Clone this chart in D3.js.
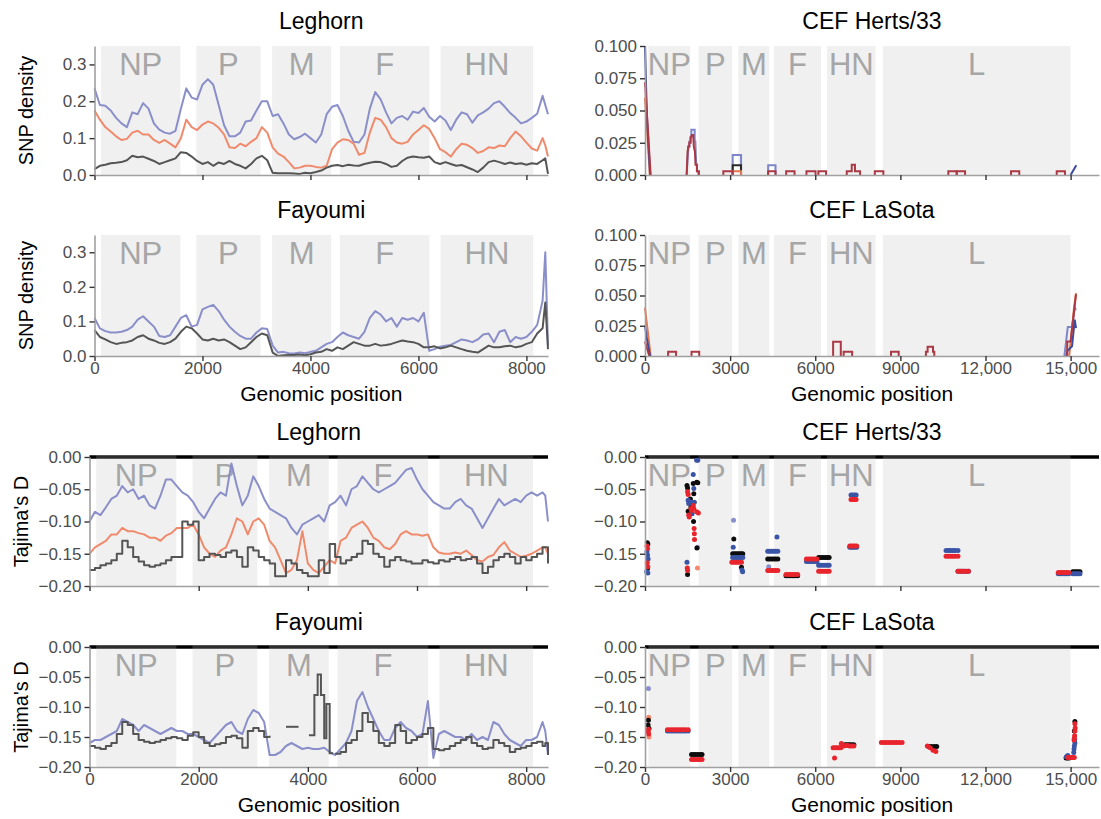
<!DOCTYPE html>
<html>
<head>
<meta charset="utf-8">
<script src="https://cdn.jsdelivr.net/npm/d3@7"></script>
<style>
  body { margin: 0; background: #fff; }
  svg { display: block; }
</style>
</head>
<body>
<svg id="chart" width="1101" height="819"></svg>
<script>
// ---------- gene annotation (NDV coding regions) ----------
const GENE_NAMES = ["NP", "P", "M", "F", "HN", "L"];
const GENE_START = [122, 1887, 3290, 4544, 6412, 8381];
const GENE_END   = [1591, 3074, 4384, 6205, 8127, 14995];

// ---------- tick values / labels ----------
const X_TICKS_LEFT = [0, 2000, 4000, 6000, 8000];
const X_LABELS_LEFT = ["0", "2000", "4000", "6000", "8000"];
const X_TICKS_RIGHT = [0, 3000, 6000, 9000, 12000, 15000];
const X_LABELS_RIGHT = ["0", "3000", "6000", "9000", "12,000", "15,000"];
const Y_TICKS_SNP_LEFT = [0, 0.1, 0.2, 0.3];
const Y_LABELS_SNP_LEFT = ["0.0", "0.1", "0.2", "0.3"];
const Y_TICKS_SNP_RIGHT = [0, 0.025, 0.05, 0.075, 0.1];
const Y_LABELS_SNP_RIGHT = ["0.000", "0.025", "0.050", "0.075", "0.100"];
const Y_TICKS_TAJ = [0, -0.05, -0.1, -0.15, -0.2];
const Y_LABELS_TAJ = ["0.00", "\u22120.05", "\u22120.10", "\u22120.15", "\u22120.20"];

// ---------- sliding-window positions for the chicken-line panels ----------
const POS_L = [0,100,200,300,400,500,600,700,800,900,1000,1100,1200,1300,1400,1500,1600,1700,1800,1900,
  2000,2100,2200,2300,2400,2500,2600,2700,2800,2900,3000,3100,3200,3300,3400,3500,3600,3700,3800,3900,
  4000,4100,4200,4300,4400,4500,4600,4700,4800,4900,5000,5100,5200,5300,5400,5500,5600,5700,5800,5900,
  6000,6100,6200,6300,6400,6500,6600,6700,6800,6900,7000,7100,7200,7300,7400,7500,7600,7700,7800,7900,
  8000,8100,8200,8300,8350,8400];

// Leghorn SNP density
const legSnpBlue = [0.235,0.19,0.188,0.175,0.155,0.14,0.13,0.17,0.165,0.195,
  0.18,0.14,0.123,0.115,0.112,0.12,0.18,0.235,0.21,0.205,
  0.245,0.26,0.245,0.19,0.135,0.105,0.105,0.115,0.145,0.148,
  0.175,0.2,0.2,0.16,0.165,0.14,0.11,0.097,0.103,0.112,
  0.1,0.088,0.11,0.165,0.185,0.19,0.16,0.12,0.09,0.088,
  0.11,0.18,0.225,0.205,0.17,0.14,0.155,0.16,0.15,0.172,
  0.168,0.182,0.158,0.145,0.16,0.148,0.122,0.15,0.17,0.165,
  0.142,0.162,0.17,0.18,0.195,0.2,0.185,0.168,0.155,0.14,
  0.145,0.155,0.166,0.215,0.19,0.165];
const legSnpSalmon = [0.175,0.15,0.13,0.118,0.105,0.095,0.098,0.115,0.12,0.11,
  0.11,0.095,0.087,0.095,0.085,0.075,0.1,0.15,0.13,0.122,
  0.137,0.145,0.14,0.128,0.11,0.075,0.073,0.085,0.078,0.09,
  0.1,0.13,0.115,0.075,0.058,0.05,0.035,0.018,0.02,0.025,
  0.025,0.022,0.02,0.025,0.07,0.088,0.097,0.095,0.085,0.055,
  0.06,0.115,0.155,0.15,0.13,0.1,0.088,0.085,0.09,0.11,
  0.122,0.135,0.125,0.1,0.07,0.062,0.05,0.07,0.085,0.082,
  0.073,0.06,0.065,0.075,0.073,0.08,0.078,0.1,0.118,0.105,
  0.088,0.072,0.066,0.1,0.08,0.05];
const legSnpGray = [0.016,0.025,0.028,0.032,0.033,0.035,0.04,0.052,0.048,0.05,
  0.044,0.038,0.03,0.035,0.04,0.045,0.062,0.06,0.05,0.038,
  0.03,0.035,0.025,0.034,0.03,0.038,0.03,0.025,0.018,0.03,
  0.045,0.052,0.04,0.006,0.005,0.005,0.005,0.004,0.003,0.006,
  0.005,0.008,0.012,0.02,0.025,0.027,0.024,0.028,0.026,0.025,
  0.03,0.033,0.036,0.035,0.03,0.022,0.025,0.038,0.047,0.05,
  0.048,0.047,0.05,0.035,0.03,0.035,0.03,0.025,0.027,0.021,
  0.015,0.008,0.02,0.035,0.039,0.035,0.03,0.034,0.03,0.032,
  0.028,0.032,0.03,0.04,0.045,0.003];

// Fayoumi SNP density
const fayoSnpBlue = [0.11,0.08,0.072,0.068,0.068,0.07,0.075,0.085,0.105,0.115,
  0.1,0.085,0.058,0.055,0.06,0.085,0.11,0.118,0.085,0.09,
  0.135,0.142,0.148,0.13,0.105,0.085,0.07,0.058,0.05,0.05,
  0.068,0.08,0.078,0.03,0.01,0.012,0.008,0.007,0.01,0.008,
  0.012,0.015,0.025,0.035,0.04,0.055,0.068,0.06,0.055,0.05,
  0.07,0.11,0.13,0.12,0.1,0.11,0.085,0.11,0.105,0.11,
  0.1,0.125,0.015,0.02,0.027,0.03,0.032,0.04,0.048,0.045,
  0.04,0.048,0.062,0.065,0.04,0.07,0.075,0.04,0.055,0.05,
  0.055,0.07,0.09,0.16,0.3,0.03];
const fayoSnpGray = [0.075,0.055,0.048,0.04,0.035,0.038,0.04,0.045,0.055,0.06,
  0.05,0.045,0.038,0.035,0.04,0.05,0.07,0.085,0.08,0.065,
  0.048,0.045,0.05,0.045,0.048,0.04,0.03,0.02,0.025,0.04,
  0.055,0.065,0.06,0.01,0.0,0.002,0.003,0.003,0.004,0.002,
  0.005,0.01,0.012,0.02,0.015,0.025,0.02,0.03,0.04,0.035,
  0.03,0.03,0.035,0.03,0.032,0.035,0.04,0.045,0.042,0.04,
  0.035,0.025,0.025,0.028,0.022,0.025,0.03,0.025,0.02,0.015,
  0.012,0.01,0.02,0.03,0.025,0.025,0.028,0.03,0.025,0.028,
  0.035,0.04,0.065,0.08,0.155,0.02];

// Leghorn Tajima's D
const legTajBlue = [-0.1,-0.085,-0.09,-0.078,-0.065,-0.06,-0.045,-0.055,-0.05,-0.065,
  -0.06,-0.075,-0.08,-0.06,-0.035,-0.035,-0.045,-0.055,-0.06,-0.07,
  -0.085,-0.095,-0.08,-0.065,-0.055,-0.06,-0.01,-0.045,-0.075,-0.06,
  -0.03,-0.045,-0.065,-0.08,-0.085,-0.09,-0.095,-0.11,-0.12,-0.105,
  -0.1,-0.095,-0.09,-0.1,-0.075,-0.07,-0.06,-0.075,-0.05,-0.045,
  -0.03,-0.04,-0.05,-0.055,-0.05,-0.045,-0.04,-0.03,-0.02,-0.017,
  -0.035,-0.05,-0.06,-0.07,-0.075,-0.08,-0.08,-0.07,-0.065,-0.075,
  -0.08,-0.095,-0.11,-0.095,-0.08,-0.065,-0.075,-0.07,-0.065,-0.07,
  -0.06,-0.055,-0.06,-0.055,-0.06,-0.1];
const legTajSalmon = [-0.15,-0.14,-0.135,-0.13,-0.12,-0.12,-0.11,-0.115,-0.115,-0.118,
  -0.12,-0.125,-0.125,-0.13,-0.122,-0.118,-0.11,-0.11,-0.11,-0.105,
  -0.12,-0.14,-0.15,-0.155,-0.145,-0.14,-0.12,-0.095,-0.1,-0.12,
  -0.1,-0.095,-0.105,-0.13,-0.14,-0.16,-0.18,-0.175,-0.16,-0.115,
  -0.165,-0.175,-0.18,-0.17,-0.16,-0.165,-0.13,-0.125,-0.11,-0.105,
  -0.1,-0.11,-0.125,-0.13,-0.14,-0.143,-0.135,-0.12,-0.115,-0.12,
  -0.12,-0.122,-0.12,-0.14,-0.148,-0.15,-0.15,-0.148,-0.15,-0.145,
  -0.152,-0.16,-0.162,-0.155,-0.152,-0.14,-0.132,-0.145,-0.15,-0.155,
  -0.153,-0.15,-0.145,-0.14,-0.14,-0.15];
const legTajGray = [-0.175,-0.172,-0.168,-0.165,-0.16,-0.15,-0.13,-0.14,-0.155,-0.162,
  -0.168,-0.17,-0.168,-0.165,-0.16,-0.155,-0.155,-0.1,-0.105,-0.1,
  -0.16,-0.155,-0.15,-0.152,-0.155,-0.148,-0.145,-0.155,-0.17,-0.14,
  -0.145,-0.155,-0.16,-0.165,-0.185,-0.185,-0.16,-0.165,-0.175,-0.18,
  -0.185,-0.185,-0.16,-0.18,-0.135,-0.155,-0.165,-0.16,-0.155,-0.15,
  -0.13,-0.135,-0.15,-0.155,-0.17,-0.16,-0.155,-0.16,-0.162,-0.165,
  -0.165,-0.16,-0.163,-0.165,-0.16,-0.162,-0.158,-0.155,-0.16,-0.158,
  -0.155,-0.165,-0.18,-0.17,-0.16,-0.155,-0.15,-0.155,-0.165,-0.155,
  -0.16,-0.155,-0.15,-0.14,-0.14,-0.165];

// Fayoumi Tajima's D
const fayoTajBlue = [-0.16,-0.155,-0.155,-0.15,-0.145,-0.14,-0.12,-0.125,-0.13,-0.14,
  -0.13,-0.135,-0.14,-0.145,-0.14,-0.135,-0.14,-0.14,-0.145,-0.145,
  -0.15,-0.155,-0.16,-0.15,-0.14,-0.13,-0.125,-0.14,-0.145,-0.12,
  -0.105,-0.11,-0.125,-0.18,-0.18,-0.175,-0.165,-0.16,-0.165,-0.17,
  -0.168,-0.17,-0.17,-0.168,-0.175,-0.18,-0.17,-0.16,-0.14,-0.09,
  -0.075,-0.1,-0.12,-0.14,-0.155,-0.155,-0.135,-0.125,-0.135,-0.14,
  -0.15,-0.145,-0.09,-0.185,-0.145,-0.14,-0.145,-0.15,-0.15,-0.155,
  -0.145,-0.155,-0.15,-0.155,-0.125,-0.13,-0.145,-0.155,-0.16,-0.165,
  -0.155,-0.155,-0.15,-0.125,-0.14,-0.18];
const fayoTajGray = [-0.165,-0.168,-0.17,-0.165,-0.16,-0.145,-0.125,-0.13,-0.145,-0.155,
  -0.158,-0.16,-0.158,-0.155,-0.152,-0.15,-0.152,-0.155,-0.148,-0.142,
  -0.15,-0.16,-0.165,-0.162,-0.16,-0.15,-0.148,-0.152,-0.168,-0.14,
  -0.135,-0.14,-0.15,-0.148,null,null,null,null,null,null,
  null,null,null,null,null,-0.178,-0.175,-0.16,-0.155,-0.14,
  -0.11,-0.125,-0.14,-0.16,-0.165,-0.16,-0.13,-0.14,-0.16,-0.155,
  -0.15,-0.145,-0.135,-0.17,-0.172,-0.17,-0.165,-0.16,-0.155,-0.15,
  -0.16,-0.165,-0.17,-0.168,-0.155,-0.16,-0.165,-0.175,-0.17,-0.168,
  -0.165,-0.16,-0.158,-0.165,-0.16,-0.18];
// sparse windows inside M for the Fayoumi gray series
const fayoTajGrayM = [
  [[3600,-0.133],[3830,-0.133]],
  [[4020,-0.147],[4120,-0.147],[4120,-0.08],[4180,-0.08],[4180,-0.046],[4240,-0.046],[4240,-0.08],
   [4300,-0.08],[4300,-0.152],[4340,-0.152],[4340,-0.095],[4400,-0.095],[4400,-0.177],[4460,-0.177]]
];

// ---------- CEF Herts/33 SNP density (vertex lists per segment) ----------
const hertsSnpBlue = [
  [[1468,0],[1527,0.022],[1562,0.022],[1562,0.026],[1597,0.026],[1597,0.029],[1633,0.029],[1633,0.035],
   [1750,0.035],[1750,0.026],[1775,0.026],[1800,0.01],[1830,0.007],[1830,0.003],[1880,0.003],[1880,0]],
  [[3090,0],[3090,0.0155],[3385,0.0155],[3385,0]],
  [[4340,0],[4340,0.0075],[4600,0.0075],[4600,0]]
];
const hertsSnpBlack = [[[3090,0],[3090,0.0075],[3385,0.0075],[3385,0]]];
const hertsSnpOrange = [
  [[0,0.06],[170,0]],
  [[3090,0],[3090,0.003],[3385,0.003],[3385,0]]
];
const hertsSnpNavy = [
  [[0,0.1],[70,0.045],[180,0]],
  [[15000,0],[15200,0.0075]]
];
const hertsSnpRed = [
  [[0,0.072],[200,0]],
  [[1468,0],[1500,0.018],[1527,0.022],[1562,0.022],[1562,0.025],[1610,0.025],[1610,0.029],[1650,0.031],
   [1700,0.031],[1720,0.022],[1760,0.018],[1780,0.008],[1830,0.008],[1830,0.003],[1900,0.003],[1900,0]],
  [[2760,0],[2760,0.003],[3090,0.003],[3090,0]],
  [[4340,0],[4340,0.003],[4600,0.003],[4600,0]],
  [[4975,0],[4975,0.003],[5270,0.003],[5270,0]],
  [[5690,0],[5690,0.003],[6010,0.003],[6010,0]],
  [[6110,0],[6110,0.003],[6380,0.003],[6380,0]],
  [[7110,0],[7110,0.003],[7285,0.003],[7285,0.008],[7400,0.008],[7400,0.003],[7580,0.003],[7580,0]],
  [[8100,0],[8100,0.003],[8400,0.003],[8400,0]],
  [[10690,0],[10690,0.003],[10985,0.003],[10985,0]],
  [[10985,0],[10985,0.003],[11280,0.003],[11280,0]],
  [[12900,0],[12900,0.003],[13190,0.003],[13190,0]],
  [[14510,0],[14510,0.003],[14800,0.003],[14800,0]]
];

// ---------- CEF LaSota SNP density ----------
const lasotaSnpOrange = [
  [[0,0.04],[200,0]],
  [[14950,0],[15120,0.04],[15190,0.052]]
];
const lasotaSnpNavy = [
  [[0,0.025],[60,0.015],[180,0]],
  [[14850,0],[14880,0.004],[15050,0.008],[15145,0.03],[15190,0.023]]
];
const lasotaSnpBlue = [
  [[14780,0],[14900,0.024],[15050,0.024],[15145,0.04],[15190,0.038]]
];
const lasotaSnpRed = [
  [[0,0.012],[150,0]],
  [[815,0],[815,0.0036],[1095,0.0036],[1095,0]],
  [[1640,0],[1640,0.0036],[1910,0.0036],[1910,0]],
  [[6630,0],[6630,0.0118],[6900,0.0118],[6900,0]],
  [[7000,0],[7000,0.0036],[7300,0.0036],[7300,0]],
  [[8670,0],[8670,0.0036],[8940,0.0036],[8940,0]],
  [[9900,0],[9900,0.0036],[9960,0.0036],[9960,0.0077],[10150,0.0077],[10150,0.0036],[10195,0.0036],[10195,0]],
  [[14880,0],[14880,0.012],[15000,0.012],[15190,0.051]]
];

// ---------- CEF Herts/33 Tajima's D (window points) ----------
const hertsTajLightBlue = [[3120,-0.098],[4360,-0.17],[1850,-0.14]];
const hertsTajSalmon = [[1850,-0.172]];
const hertsTajBlack = [[80,-0.133],[100,-0.135],[90,-0.173],
  [1500,-0.182],[1480,-0.044],[1500,-0.048],[1520,-0.084],[1600,-0.065],[1620,-0.078],[1700,-0.041],
  [1720,-0.057],[1710,-0.1],[1820,-0.039],[1860,-0.04],[1830,-0.141],
  [3130,-0.127],[3090,-0.15],[3150,-0.15],[3210,-0.15],[3270,-0.15],[3330,-0.15],[3390,-0.15],[3445,-0.15],[3400,-0.171],
  [4325,-0.158],[4395,-0.158],[4465,-0.158],[4535,-0.158],[4605,-0.158],[4680,-0.158],
  [4970,-0.184],[5050,-0.184],[5130,-0.184],[5210,-0.184],[5290,-0.184],[5380,-0.184],
  [6120,-0.156],[6195,-0.156],[6270,-0.156],[6345,-0.156],[6420,-0.156],[6490,-0.156],
  [15075,-0.178],[15140,-0.178],[15200,-0.178],[15260,-0.178],[15330,-0.178]];
const hertsTajBlue = [[70,-0.147],[90,-0.152],[110,-0.158],[100,-0.18],[60,-0.178],
  [1480,-0.163],
  [1520,-0.067],[1540,-0.072],[1620,-0.07],[1660,-0.088],[1700,-0.027],[1720,-0.049],[1740,-0.07],[1820,-0.005],[1860,-0.005],
  [3110,-0.14],[3090,-0.156],[3150,-0.156],[3210,-0.156],[3270,-0.156],[3330,-0.156],[3390,-0.156],[3445,-0.156],[3420,-0.175],[3440,-0.178],
  [4325,-0.146],[4395,-0.146],[4465,-0.146],[4535,-0.146],[4605,-0.146],[4680,-0.146],[4650,-0.124],
  [5690,-0.162],[5765,-0.162],[5840,-0.162],[5915,-0.162],[5990,-0.162],[6060,-0.162],
  [6120,-0.168],[6195,-0.168],[6270,-0.168],[6345,-0.168],[6420,-0.168],[6490,-0.168],
  [7260,-0.059],[7320,-0.059],[7380,-0.059],[7440,-0.059],
  [7215,-0.14],[7275,-0.14],[7335,-0.14],[7395,-0.14],[7460,-0.14],
  [10610,-0.145],[10690,-0.145],[10770,-0.145],[10850,-0.145],[10930,-0.145],[11030,-0.145],
  [11030,-0.177],[11100,-0.177],[11170,-0.177],[11240,-0.177],[11320,-0.177],[11400,-0.177],
  [14565,-0.181],[14640,-0.181],[14710,-0.181],[14780,-0.181],[14850,-0.181],[14930,-0.181],
  [15075,-0.181],[15140,-0.181],[15200,-0.181],[15260,-0.181],[15330,-0.181]];
const hertsTajRed = [[70,-0.138],[90,-0.142],[80,-0.164],[100,-0.17],
  [1490,-0.172],[1500,-0.176],
  [1500,-0.054],[1520,-0.058],[1540,-0.09],[1560,-0.093],[1620,-0.08],[1640,-0.083],[1700,-0.075],[1720,-0.08],
  [1730,-0.111],[1740,-0.119],[1745,-0.128],[1820,-0.085],[1880,-0.087],
  [3060,-0.163],[3125,-0.163],[3190,-0.163],[3255,-0.163],[3320,-0.163],[3400,-0.163],
  [4325,-0.176],[4395,-0.176],[4465,-0.176],[4535,-0.176],[4605,-0.176],[4680,-0.176],
  [4970,-0.182],[5050,-0.182],[5130,-0.182],[5210,-0.182],[5290,-0.182],[5380,-0.182],
  [5690,-0.158],[5765,-0.158],[5840,-0.158],[5915,-0.158],[5990,-0.158],[6060,-0.158],
  [6120,-0.177],[6195,-0.177],[6270,-0.177],[6345,-0.177],[6420,-0.177],[6490,-0.177],
  [7260,-0.066],[7320,-0.066],[7380,-0.066],[7440,-0.066],
  [7215,-0.138],[7275,-0.138],[7335,-0.138],[7395,-0.138],[7460,-0.138],
  [10610,-0.154],[10690,-0.154],[10770,-0.154],[10850,-0.154],[10930,-0.154],[11030,-0.154],
  [11030,-0.177],[11100,-0.177],[11170,-0.177],[11240,-0.177],[11320,-0.177],[11400,-0.177],
  [14565,-0.179],[14640,-0.179],[14710,-0.179],[14780,-0.179],[14850,-0.179],[14930,-0.179]];

// ---------- CEF LaSota Tajima's D ----------
const lasotaTajLightBlue = [[120,-0.069]];
const lasotaTajSalmon = [[130,-0.117],[140,-0.15],[120,-0.12]];
const lasotaTajBlack = [[120,-0.122],[140,-0.136],[110,-0.13],
  [1640,-0.179],[1715,-0.179],[1790,-0.179],[1865,-0.179],[1940,-0.179],[2010,-0.179],
  [7050,-0.163],[7110,-0.163],[7170,-0.163],[7230,-0.163],[7290,-0.163],[7360,-0.163],
  [10000,-0.166],[10100,-0.166],[10200,-0.166],[10280,-0.166],
  [14840,-0.185],[14890,-0.185],[14950,-0.185],
  [15150,-0.124],[15130,-0.14]];
const lasotaTajBlue = [[790,-0.14],[870,-0.14],[950,-0.14],[1030,-0.14],[1110,-0.14],[1190,-0.14],[1270,-0.14],[1350,-0.14],[1430,-0.14],[1520,-0.14],
  [14850,-0.183],[14900,-0.181],
  [15140,-0.155],[15150,-0.16],[15130,-0.165],[15120,-0.17],[15110,-0.176]];
const lasotaTajRed = [[110,-0.141],[130,-0.145],[120,-0.137],
  [790,-0.138],[870,-0.138],[950,-0.138],[1030,-0.138],[1110,-0.138],[1190,-0.138],[1270,-0.138],[1350,-0.138],[1430,-0.138],[1520,-0.138],
  [1640,-0.1875],[1715,-0.1875],[1790,-0.1875],[1865,-0.1875],[1940,-0.1875],[2010,-0.1875],
  [6680,-0.185],
  [6630,-0.168],[6700,-0.168],[6770,-0.168],[6840,-0.168],[6900,-0.168],
  [6920,-0.161],
  [7000,-0.165],[7070,-0.164],[7140,-0.164],[7210,-0.165],[7280,-0.165],[7360,-0.165],
  [8330,-0.159],[8420,-0.159],[8510,-0.159],[8600,-0.159],[8690,-0.159],[8780,-0.159],[8870,-0.159],[8960,-0.159],[9060,-0.159],
  [9950,-0.165],[10050,-0.168],[10150,-0.172],[10250,-0.174],
  [14900,-0.184],[14960,-0.184],[15020,-0.184],[15080,-0.184],[15130,-0.184],
  [15150,-0.128],[15160,-0.135],[15150,-0.14],[15140,-0.148],[15130,-0.152],[15120,-0.155]];

// ---------- drawing ----------
const FONT = "'Liberation Sans', Arial, Helvetica, sans-serif";
const C = {
  lineBlue: "#8a8fc9", lineSalmon: "#f08a6c", lineGray: "#555555",
  snpNavy: "#3c4b9b", snpBlue: "#7d86c7", snpBlack: "#2a2a2a", snpOrange: "#e3784f", snpRed: "#ab3844",
  ptBlack: "#0d0d0d", ptBlue: "#3a55a6", ptRed: "#e8242c", ptLight: "#8990cd", ptSalmon: "#f3896f"
};

const svg = d3.select("#chart").attr("font-family", FONT);

const genesLeft = GENE_NAMES.slice(0, 5).map((n, i) => ({ name: n, start: GENE_START[i], end: GENE_END[i] }));
const genesRight = GENE_NAMES.map((n, i) => ({ name: n, start: GENE_START[i], end: GENE_END[i] }));

const COLS = {
  left12: { left: 94.5, right: 548 },
  left34: { left: 89.5, right: 548 },
  right:  { left: 645, right: 1099 }
};
const ROWS = [
  { top: 46, bottom: 175 },
  { top: 235, bottom: 356 },
  { top: 457, bottom: 586 },
  { top: 647, bottom: 767 }
];

function seriesPath(g, x, y, vals, color, curve) {
  const pts = POS_L.map((p, i) => [p, vals[i]]);
  g.append("path").datum(pts)
    .attr("fill", "none").attr("stroke", color).attr("stroke-width", 2)
    .attr("stroke-linejoin", "round")
    .attr("d", d3.line().defined(d => d[1] !== null).x(d => x(d[0])).y(d => y(d[1])).curve(curve));
}
function segmentPaths(g, x, y, segs, color, curve) {
  segs.forEach(s => {
    g.append("path").datum(s)
      .attr("fill", "none").attr("stroke", color).attr("stroke-width", 2)
      .attr("stroke-linejoin", "miter")
      .attr("d", d3.line().x(d => x(d[0])).y(d => y(d[1])).curve(curve || d3.curveLinear));
  });
}
function points(g, x, y, pts, color) {
  g.append("g").selectAll("circle").data(pts).join("circle")
    .attr("cx", d => x(d[0])).attr("cy", d => y(d[1]))
    .attr("r", 2.5).attr("fill", color);
}

function panel(p) {
  const g = svg.append("g");
  const x = d3.scaleLinear().domain(p.xDomain).range([p.col.left, p.col.right]);
  const y = d3.scaleLinear().domain(p.yDomain).range([p.row.bottom, p.row.top]);

  if (p.zeroLine) {
    g.append("line")
      .attr("x1", p.col.left).attr("x2", p.col.right)
      .attr("y1", y(0)).attr("y2", y(0))
      .attr("stroke", "#000").attr("stroke-width", 3.4);
  }
  const bandTop = p.row.top - (p.zeroLine ? 1.7 : 0);
  g.append("g").selectAll("rect").data(p.genes).join("rect")
    .attr("x", d => x(d.start)).attr("width", d => x(d.end) - x(d.start))
    .attr("y", bandTop).attr("height", p.row.bottom - bandTop)
    .attr("fill", "#bebebe").attr("fill-opacity", 0.23);
  g.append("g").selectAll("text").data(p.genes).join("text")
    .attr("x", d => x((d.start + d.end) / 2)).attr("y", p.row.top + 29)
    .attr("text-anchor", "middle").attr("font-size", 31).attr("fill", "#a6a6a6")
    .text(d => d.name);

  p.draw(g, x, y);

  const xa = g.append("g").attr("transform", `translate(0,${p.row.bottom})`)
    .call(d3.axisBottom(x).tickValues(p.xTicks).tickSizeInner(5).tickSizeOuter(0).tickPadding(1)
      .tickFormat((d, i) => p.xLabels ? p.xLabels[i] : ""));
  const ya = g.append("g").attr("transform", `translate(${p.col.left},0)`)
    .call(d3.axisLeft(y).tickValues(p.yTicks).tickSizeInner(5).tickSizeOuter(0).tickPadding(3)
      .tickFormat((d, i) => p.yLabels[i]));
  [xa, ya].forEach(a => {
    a.attr("font-family", FONT);
    a.select(".domain").attr("stroke", "#a0a0a0").attr("stroke-width", 1.6);
    a.selectAll(".tick line").attr("stroke", "#333").attr("stroke-width", 1.4);
    a.selectAll(".tick text").attr("fill", "#4d4d4d").attr("font-size", 17);
  });

  g.append("text")
    .attr("x", (p.col.left + p.col.right) / 2).attr("y", p.row.top - 17)
    .attr("text-anchor", "middle").attr("font-size", 23).attr("fill", "#000")
    .text(p.title);
  if (p.xTitle) {
    g.append("text")
      .attr("x", (p.col.left + p.col.right) / 2).attr("y", p.row.bottom + 45)
      .attr("text-anchor", "middle").attr("font-size", 21).attr("fill", "#000")
      .text(p.xTitle);
  }
  if (p.yTitle) {
    g.append("text")
      .attr("transform", `translate(${p.yTitleX},${(p.row.top + p.row.bottom) / 2}) rotate(-90)`)
      .attr("text-anchor", "middle").attr("dy", "0.35em").attr("font-size", 20).attr("fill", "#000")
      .text(p.yTitle);
  }
}

// Row 1: SNP density
panel({ title: "Leghorn", col: COLS.left12, row: ROWS[0], xDomain: [0, 8400], yDomain: [0, 0.35],
  genes: genesLeft, xTicks: X_TICKS_LEFT, xLabels: null, yTicks: Y_TICKS_SNP_LEFT, yLabels: Y_LABELS_SNP_LEFT,
  yTitle: "SNP density", yTitleX: 26,
  draw: (g, x, y) => {
    seriesPath(g, x, y, legSnpBlue, C.lineBlue, d3.curveLinear);
    seriesPath(g, x, y, legSnpSalmon, C.lineSalmon, d3.curveLinear);
    seriesPath(g, x, y, legSnpGray, C.lineGray, d3.curveLinear);
  } });
panel({ title: "CEF Herts/33", col: COLS.right, row: ROWS[0], xDomain: [0, 16000], yDomain: [0, 0.1],
  genes: genesRight, xTicks: X_TICKS_RIGHT, xLabels: null, yTicks: Y_TICKS_SNP_RIGHT, yLabels: Y_LABELS_SNP_RIGHT,
  draw: (g, x, y) => {
    segmentPaths(g, x, y, hertsSnpBlue, C.snpBlue);
    segmentPaths(g, x, y, hertsSnpBlack, C.snpBlack);
    segmentPaths(g, x, y, hertsSnpOrange, C.snpOrange);
    segmentPaths(g, x, y, hertsSnpNavy, C.snpNavy);
    segmentPaths(g, x, y, hertsSnpRed, C.snpRed);
  } });

// Row 2: SNP density
panel({ title: "Fayoumi", col: COLS.left12, row: ROWS[1], xDomain: [0, 8400], yDomain: [0, 0.35],
  genes: genesLeft, xTicks: X_TICKS_LEFT, xLabels: X_LABELS_LEFT, yTicks: Y_TICKS_SNP_LEFT, yLabels: Y_LABELS_SNP_LEFT,
  yTitle: "SNP density", yTitleX: 26, xTitle: "Genomic position",
  draw: (g, x, y) => {
    seriesPath(g, x, y, fayoSnpBlue, C.lineBlue, d3.curveLinear);
    seriesPath(g, x, y, fayoSnpGray, C.lineGray, d3.curveLinear);
  } });
panel({ title: "CEF LaSota", col: COLS.right, row: ROWS[1], xDomain: [0, 16000], yDomain: [0, 0.1],
  genes: genesRight, xTicks: X_TICKS_RIGHT, xLabels: X_LABELS_RIGHT, yTicks: Y_TICKS_SNP_RIGHT, yLabels: Y_LABELS_SNP_RIGHT,
  xTitle: "Genomic position",
  draw: (g, x, y) => {
    segmentPaths(g, x, y, lasotaSnpBlue, C.snpBlue);
    segmentPaths(g, x, y, lasotaSnpOrange, C.snpOrange);
    segmentPaths(g, x, y, lasotaSnpNavy, C.snpNavy);
    segmentPaths(g, x, y, lasotaSnpRed, C.snpRed);
  } });

// Row 3: Tajima's D
panel({ title: "Leghorn", col: COLS.left34, row: ROWS[2], xDomain: [0, 8400], yDomain: [-0.2, 0],
  genes: genesLeft, xTicks: X_TICKS_LEFT, xLabels: null, yTicks: Y_TICKS_TAJ, yLabels: Y_LABELS_TAJ,
  yTitle: "Tajima's D", yTitleX: 21, zeroLine: true,
  draw: (g, x, y) => {
    seriesPath(g, x, y, legTajBlue, C.lineBlue, d3.curveLinear);
    seriesPath(g, x, y, legTajSalmon, C.lineSalmon, d3.curveLinear);
    seriesPath(g, x, y, legTajGray, C.lineGray, d3.curveStepAfter);
  } });
panel({ title: "CEF Herts/33", col: COLS.right, row: ROWS[2], xDomain: [0, 16000], yDomain: [-0.2, 0],
  genes: genesRight, xTicks: X_TICKS_RIGHT, xLabels: null, yTicks: Y_TICKS_TAJ, yLabels: Y_LABELS_TAJ,
  zeroLine: true,
  draw: (g, x, y) => {
    points(g, x, y, hertsTajLightBlue, C.ptLight);
    points(g, x, y, hertsTajSalmon, C.ptSalmon);
    points(g, x, y, hertsTajBlack, C.ptBlack);
    points(g, x, y, hertsTajBlue, C.ptBlue);
    points(g, x, y, hertsTajRed, C.ptRed);
  } });

// Row 4: Tajima's D
panel({ title: "Fayoumi", col: COLS.left34, row: ROWS[3], xDomain: [0, 8400], yDomain: [-0.2, 0],
  genes: genesLeft, xTicks: X_TICKS_LEFT, xLabels: X_LABELS_LEFT, yTicks: Y_TICKS_TAJ, yLabels: Y_LABELS_TAJ,
  yTitle: "Tajima's D", yTitleX: 21, xTitle: "Genomic position", zeroLine: true,
  draw: (g, x, y) => {
    seriesPath(g, x, y, fayoTajBlue, C.lineBlue, d3.curveLinear);
    seriesPath(g, x, y, fayoTajGray, C.lineGray, d3.curveStepAfter);
    segmentPaths(g, x, y, fayoTajGrayM, C.lineGray);
  } });
panel({ title: "CEF LaSota", col: COLS.right, row: ROWS[3], xDomain: [0, 16000], yDomain: [-0.2, 0],
  genes: genesRight, xTicks: X_TICKS_RIGHT, xLabels: X_LABELS_RIGHT, yTicks: Y_TICKS_TAJ, yLabels: Y_LABELS_TAJ,
  xTitle: "Genomic position", zeroLine: true,
  draw: (g, x, y) => {
    points(g, x, y, lasotaTajLightBlue, C.ptLight);
    points(g, x, y, lasotaTajSalmon, C.ptSalmon);
    points(g, x, y, lasotaTajBlack, C.ptBlack);
    points(g, x, y, lasotaTajBlue, C.ptBlue);
    points(g, x, y, lasotaTajRed, C.ptRed);
  } });
</script>
</body>
</html>
